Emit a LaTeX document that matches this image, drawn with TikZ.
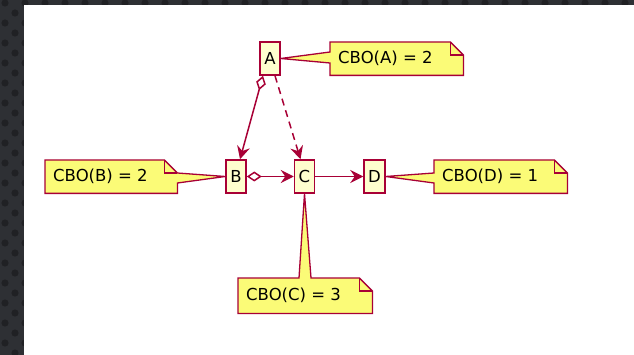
\documentclass[tikz,border=0pt]{standalone}
\usepackage{fontspec}
\setmainfont{DejaVu Sans}
\usetikzlibrary{arrows.meta}
\definecolor{umlred}{HTML}{A80036}
\definecolor{classfill}{HTML}{FEFECE}
\definecolor{notefill}{HTML}{FBFB77}
\definecolor{frame}{HTML}{2E3034}
\definecolor{framedot}{HTML}{202124}
\begin{document}
\begin{tikzpicture}[x=1pt,y=-1pt,
  font=\fontsize{16.5}{18}\selectfont,
  classbox/.style={draw=umlred,fill=classfill,line width=1.5pt,rectangle,
    minimum width=20pt,minimum height=33pt,inner sep=0pt},
  notebox/.style={rectangle,inner sep=0pt,minimum height=33pt,anchor=north west},
  noteline/.style={draw=umlred,fill=notefill,line width=1.3pt,line join=miter},
  foldline/.style={draw=umlred,line width=1.3pt},
  link/.style={draw=umlred,line width=1.5pt},
  head/.style={-{Stealth[length=13pt,width=13pt,inset=4.5pt]}},
  agg/.style={{Diamond[fill=white,length=15pt,width=10pt]}-{Stealth[length=13pt,width=13pt,inset=4.5pt]}}
]
\useasboundingbox (0,0) rectangle (634,355);

% dark dotted frame on the left and top
\fill[frame] (0,0) rectangle (634,355);
\begin{scope}
  \clip (0,0) rectangle (634,355);
  \foreach \r in {0,...,35}{
    \pgfmathtruncatemacro{\odd}{mod(\r,2)}
    \foreach \c in {0,...,32}{
      \fill[framedot] ({5+20*\c+10*\odd},{3+10*\r}) circle (3.6);
    }
  }
\end{scope}
\fill[white] (24,5) rectangle (634,355);

% classes
\node[classbox] (A) at (270,58.5) {A};
\node[classbox] (B) at (236,176.5) {B};
\node[classbox] (C) at (304.5,176.5) {C};
\node[classbox,minimum width=21pt] (D) at (374.5,176.5) {D};

% note frames (text areas)
\node[notebox,minimum width=133pt] (nA) at (330,42) {};
\node[notebox,minimum width=132pt] (nB) at (45,160) {};
\node[notebox,minimum width=134pt,minimum height=35pt] (nC) at (238,278) {};
\node[notebox,minimum width=133pt] (nD) at (434,160) {};

% note A, pointer on its left side
\path[noteline] (nA.south west) -- ([yshift=-21pt]nA.north west) -- (A.east)
  -- ([yshift=-10pt]nA.north west) -- (nA.north west)
  -- ([xshift=-13pt]nA.north east) -- ([yshift=-13pt]nA.north east)
  -- (nA.south east) -- cycle;
\path[foldline] ([xshift=-13pt]nA.north east) |- ([yshift=-13pt]nA.north east);

% note B, pointer on its right side
\path[noteline] (nB.south west) -- (nB.north west)
  -- ([xshift=-13pt]nB.north east) -- ([yshift=-13pt]nB.north east)
  -- (B.west) -- ([yshift=-23pt]nB.north east)
  -- (nB.south east) -- cycle;
\path[foldline] ([xshift=-13pt]nB.north east) |- ([yshift=-13pt]nB.north east);

% note C, pointer on its top side
\path[noteline] (nC.south west) -- (nC.north west) -- ([xshift=61pt]nC.north west)
  -- (C.south) -- ([xshift=73pt]nC.north west)
  -- ([xshift=-13pt]nC.north east) -- ([yshift=-13pt]nC.north east)
  -- (nC.south east) -- cycle;
\path[foldline] ([xshift=-13pt]nC.north east) |- ([yshift=-13pt]nC.north east);

% note D, pointer on its left side
\path[noteline] (nD.south west) -- ([yshift=-23pt]nD.north west) -- (D.east)
  -- ([yshift=-13pt]nD.north west) -- (nD.north west)
  -- ([xshift=-13pt]nD.north east) -- ([yshift=-13pt]nD.north east)
  -- (nD.south east) -- cycle;
\path[foldline] ([xshift=-13pt]nD.north east) |- ([yshift=-13pt]nD.north east);

% note texts
\node[anchor=west,inner sep=0pt] (tA) at ([xshift=8pt]nA.west) {CBO(A) = 2};
\node[anchor=west,inner sep=0pt] (tB) at ([xshift=8pt]nB.west) {CBO(B) = 2};
\node[anchor=west,inner sep=0pt] (tC) at ([xshift=8pt]nC.west) {CBO(C) = 3};
\node[anchor=west,inner sep=0pt] (tD) at ([xshift=8pt]nD.west) {CBO(D) = 1};

% relations
\draw[link,agg] ([xshift=-7pt]A.south) -- ([xshift=4pt]B.north);
\draw[link,head,dash pattern=on 7pt off 5pt] ([xshift=5pt]A.south) -- ([xshift=-4pt]C.north);
\draw[link,agg] (B.east) -- (C.west);
\draw[link,head] (C.east) -- (D.west);

% redraw classes above the connector ends
\node[classbox] at (A) {A};
\node[classbox] at (B) {B};
\node[classbox] at (C) {C};
\node[classbox,minimum width=21pt] at (D) {D};
\end{tikzpicture}
\end{document}
